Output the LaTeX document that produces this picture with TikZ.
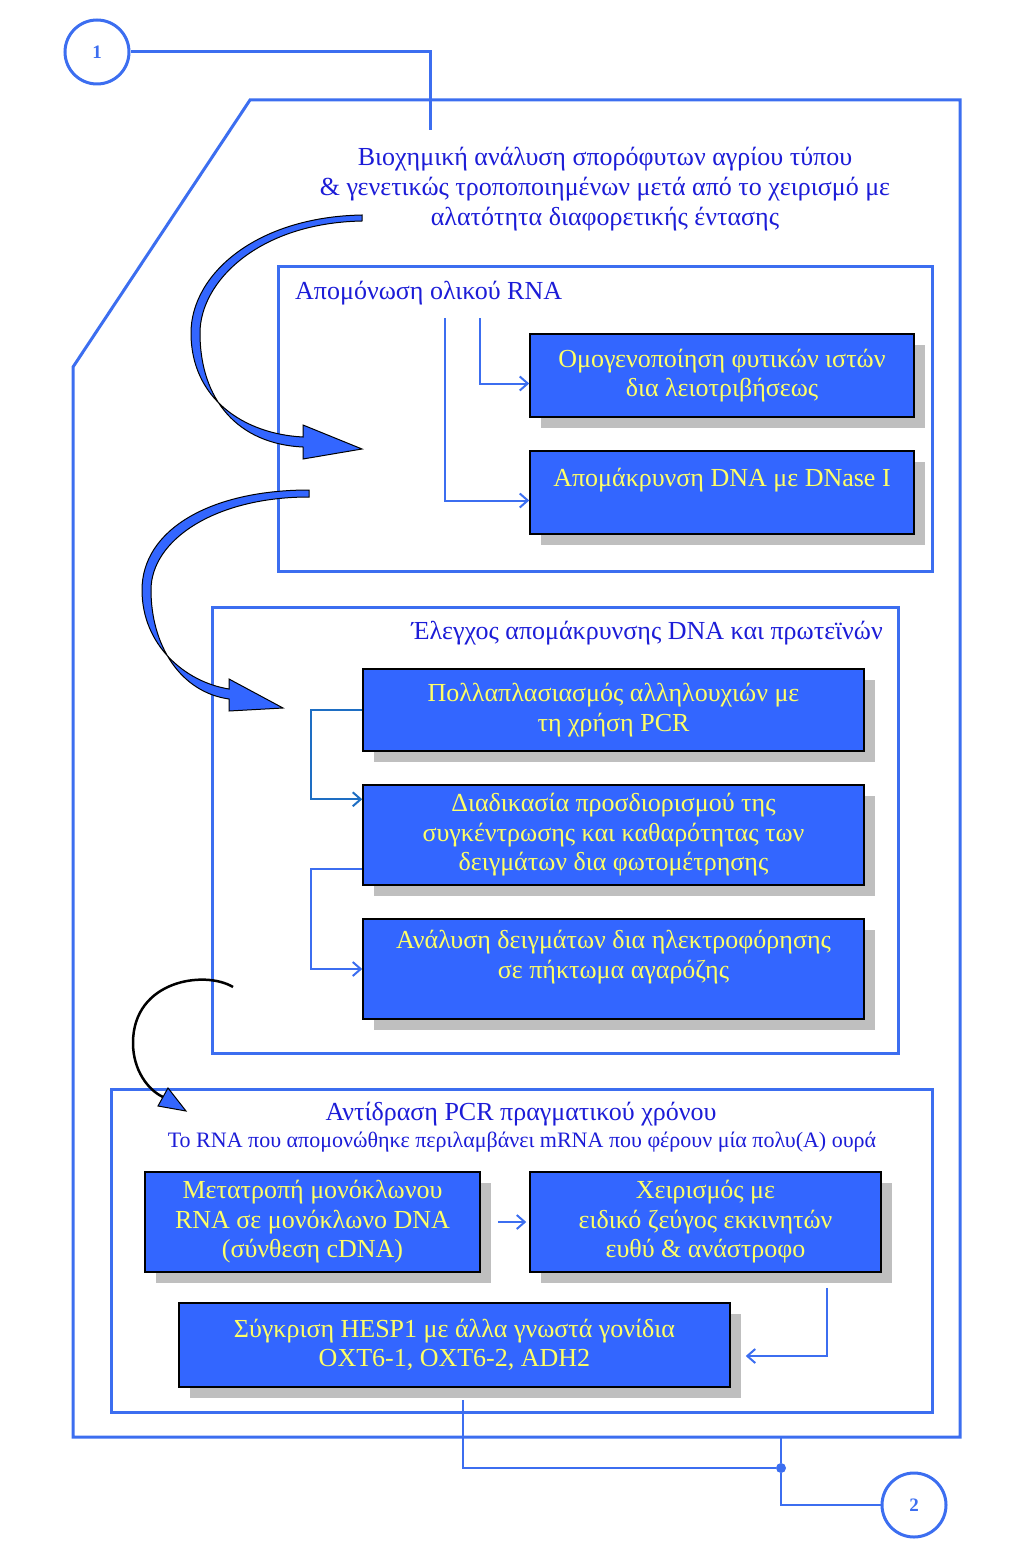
\documentclass[tikz,border=0pt]{standalone}
\usepackage{fontspec}
\setmainfont{Liberation Serif}
\usetikzlibrary{arrows.meta,shadows}
\definecolor{frameblue}{RGB}{60,110,240}
\definecolor{boxblue}{RGB}{51,102,255}
\definecolor{titleblue}{RGB}{28,28,215}
\definecolor{boxyellow}{RGB}{255,255,102}
\definecolor{shadowgray}{RGB}{191,191,191}
\definecolor{linkteal}{RGB}{30,110,195}
\begin{document}
\begin{tikzpicture}[x=1pt,y=-1pt,
    frame/.style={draw=frameblue, line width=3pt},
    stepbox/.style={rectangle, draw=black, line width=1.5pt, fill=boxblue, text=boxyellow, align=center,
        font=\fontsize{26}{29.5}\selectfont, inner sep=0pt,
        drop shadow={shadow xshift=11pt, shadow yshift=-11pt, fill=shadowgray, opacity=1}},
    heading/.style={text=titleblue, font=\fontsize{26}{30}\selectfont, align=center, inner sep=0pt},
    wire/.style={draw=frameblue, line width=2pt},
    link/.style={wire, -{Straight Barb[length=8pt,width=14pt]}},
    bigarrow/.style={fill=boxblue, draw=black, line width=1pt},
    marker/.style={circle, draw=frameblue, line width=3pt, minimum size=64pt, inner sep=0pt,
        text=frameblue, font=\fontsize{19}{19}\selectfont\bfseries}
]
    \useasboundingbox (0,0) rectangle (1024,1546);

    % frames
    \draw[frame] (250,100) -- (960,100) -- (960,1437) -- (73,1437) -- (73,367) -- cycle;
    \draw[frame] (278,266) rectangle (932,571);
    \draw[frame] (212,607) rectangle (898,1053);
    \draw[frame] (111,1089) rectangle (932,1412);

    % titles
    \node[heading] (title) at (605,189) {Βιοχημική ανάλυση σπορόφυτων αγρίου τύπου\\
        \& γενετικώς τροποποιημένων μετά από το χειρισμό με\\αλατότητα διαφορετικής έντασης};
    \node[heading, anchor=west] (isoTitle) at (295,293) {Απομόνωση ολικού RNA};
    \node[heading, anchor=east] (checkTitle) at (883,633) {Έλεγχος απομάκρυνσης DNA και πρωτεϊνών};
    \node[heading] (rtTitle) at (521,1114) {Αντίδραση PCR πραγματικού χρόνου};
    \node[heading, font=\fontsize{22}{24}\selectfont] (rtSub) at (522,1142)
        {Το RNA που απομονώθηκε περιλαμβάνει mRNA που φέρουν μία πολυ(A) ουρά};

    % steps
    \node[stepbox, minimum width=384pt, minimum height=83pt] (homog) at (722,375.5)
        {Ομογενοποίηση φυτικών ιστών\\δια λειοτριβήσεως};
    \node[stepbox, minimum width=384pt, minimum height=83pt] (dnase) at (722,492.5)
        {Απομάκρυνση DNA με DNase I\\\mbox{}};
    \node[stepbox, minimum width=501pt, minimum height=82pt] (pcr) at (613.5,710)
        {Πολλαπλασιασμός αλληλουχιών με\\τη χρήση PCR};
    \node[stepbox, minimum width=501pt, minimum height=100pt] (photo) at (613.5,835)
        {Διαδικασία προσδιορισμού της\\συγκέντρωσης και καθαρότητας των\\δειγμάτων δια φωτομέτρησης};
    \node[stepbox, minimum width=501pt, minimum height=100pt] (electro) at (613.5,969)
        {Ανάλυση δειγμάτων δια ηλεκτροφόρησης\\σε πήκτωμα αγαρόζης\\\mbox{}};
    \node[stepbox, minimum width=335pt, minimum height=100pt] (cdna) at (312.5,1222)
        {Μετατροπή μονόκλωνου\\RNA σε μονόκλωνο DNA\\(σύνθεση cDNA)};
    \node[stepbox, minimum width=351pt, minimum height=100pt] (primers) at (705.5,1222)
        {Χειρισμός με\\ειδικό ζεύγος εκκινητών\\ευθύ \& ανάστροφο};
    \node[stepbox, minimum width=551pt, minimum height=84pt] (compare) at (454.5,1345)
        {Σύγκριση HESP1 με άλλα γνωστά γονίδια\\OXT6-1, OXT6-2, ADH2};

    % markers
    \node[marker] (n1) at (97,52) {1};
    \node[marker] (n2) at (914,1505) {2};
    \node[circle, fill=frameblue, inner sep=0pt, minimum size=10pt] (jn) at (781,1468) {};

    \coordinate (hd) at (430,130);
    \coordinate (isoL) at (445,318);
    \coordinate (isoR) at (480,318);
    \coordinate (fb) at (781,1437);
    \coordinate (cs) at (463,1400);

    % connectors
    \draw[frame] (n1.east) -| (hd);
    \draw[link] (isoR) |- ([yshift=-8pt]homog.west);
    \draw[link] (isoL) |- ([yshift=-8pt]dnase.west);
    \draw[link, draw=linkteal] (pcr.west) -- ++(-51,0) |- ([yshift=-15pt]photo.north west);
    \draw[link] ([yshift=17pt]photo.south west) -- ++(-51,0) |- (electro.west);
    \draw[link, shorten <=17pt, shorten >=3pt] (cdna.east) -- (primers.west);
    \draw[link] ([xshift=-55pt,yshift=-15pt]primers.south east) |- ([xshift=15pt,yshift=-11pt]compare.east);
    \draw[wire] (cs) |- (jn);
    \draw[wire] (fb) -- (jn) |- (n2.west);

    % curved arrows
    \draw[bigarrow] (362,215) .. controls (255,217) and (191,275) .. (191,333)
        .. controls (191,398) and (243,434) .. (303,437) -- (303,425) -- (362,449) -- (303,459) -- (303,447)
        .. controls (238,444) and (200,400) .. (200,333) .. controls (200,282) and (258,223) .. (362,221) -- cycle;
    \draw[bigarrow] (309,490) .. controls (210,490) and (142,530) .. (142,590)
        .. controls (142,645) and (185,682) .. (229,689) -- (229,679) -- (283,708) -- (229,711) -- (229,699)
        .. controls (180,692) and (151,645) .. (151,590) .. controls (151,540) and (215,497) .. (309,497) -- cycle;
    \draw[black, line width=2.5pt] (233,987) .. controls (205,970) and (133,980) .. (133,1043)
        .. controls (133,1070) and (148,1090) .. (163,1097);
    \draw[bigarrow] (158,1106) -- (168,1088) -- (186,1111) -- cycle;
\end{tikzpicture}
\end{document}
